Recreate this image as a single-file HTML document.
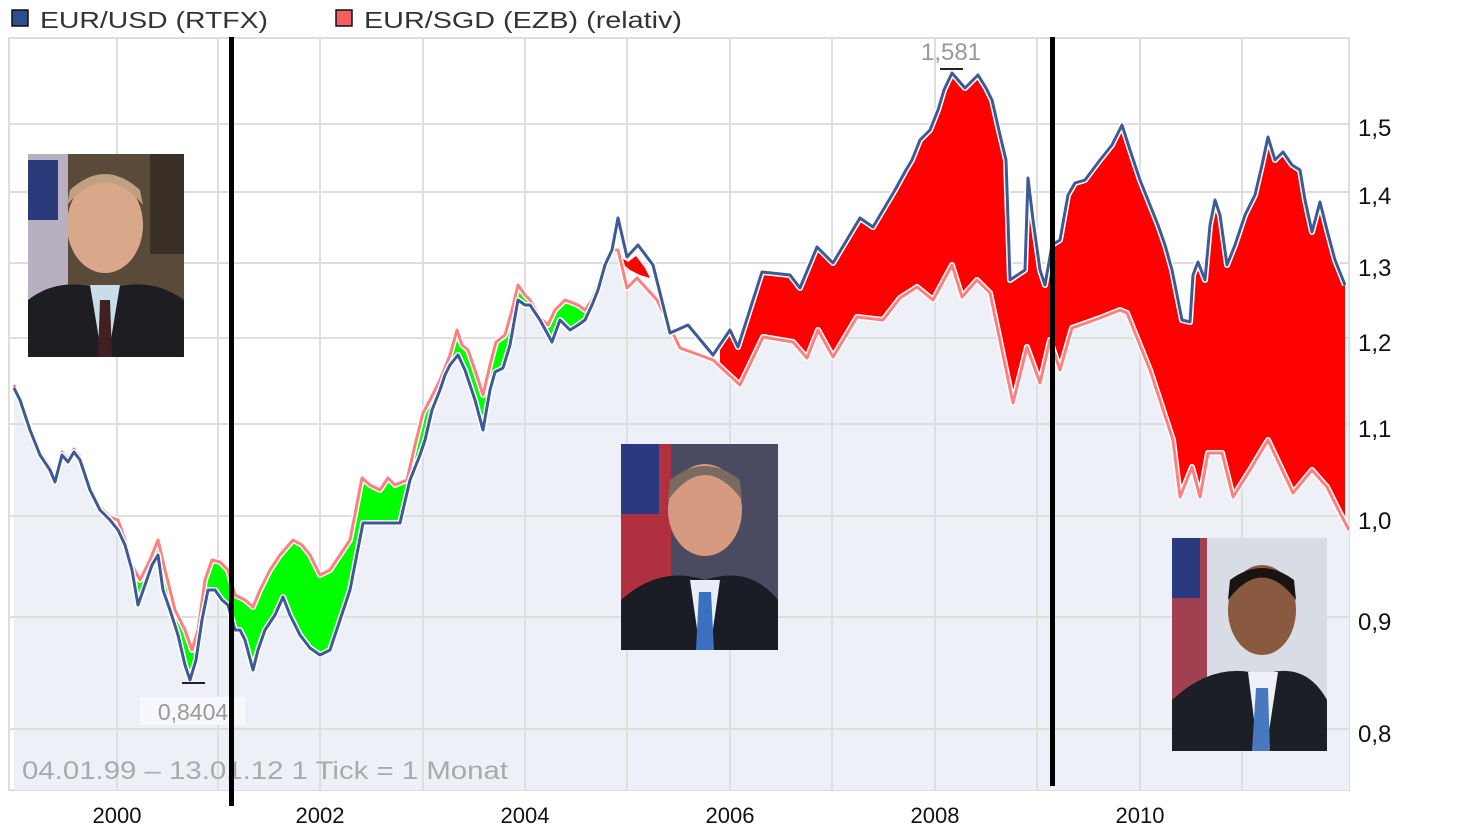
<!DOCTYPE html>
<html><head><meta charset="utf-8"><style>
html,body{margin:0;padding:0;background:#fff;width:1463px;height:838px;overflow:hidden}
svg{display:block}
text{font-family:"Liberation Sans",sans-serif}
</style></head><body>
<svg width="1463" height="838" viewBox="0 0 1463 838" xmlns="http://www.w3.org/2000/svg">
<defs>
<clipPath id="cl"><rect x="0" y="0" width="600" height="838"/></clipPath>
<clipPath id="cr"><rect x="600" y="0" width="900" height="838"/></clipPath>
<clipPath id="cg"><rect x="0" y="0" width="600" height="838"/></clipPath>
<clipPath id="cred"><rect x="720" y="0" width="700" height="838"/></clipPath>
<clipPath id="cplot"><rect x="9" y="38" width="1340" height="752"/></clipPath>
<polyline id="pk" fill="none" stroke-linejoin="round" points="14,385 20,397 30,427 40,452 50,467 55,479 62,452 68,459 74,449 80,457 90,487 100,507 110,517 118,520 125,540 132,565 140,580 150,560 158,540 165,570 175,610 185,630 192,650 198,630 205,580 212,560 220,562 228,570 235,595 245,600 253,607 260,590 270,570 280,555 293,540 302,545 310,555 320,575 330,570 340,555 350,540 362,478 370,485 380,490 388,478 395,485 407,480 415,445 423,413 430,400 440,380 450,355 457,330 462,345 468,350 475,370 483,395 490,365 496,342 505,335 512,310 518,285 525,295 530,300 540,318 548,325 555,310 565,300 578,305 585,310 592,300 598,285 605,265 612,250 618,250 627,288 637,278 657,300 680,348 713,360 740,385 763,337 793,342 807,358 818,330 833,357 857,317 883,320 900,298 917,287 933,300 952,265 962,297 977,280 990,293 1013,403 1027,347 1040,383 1050,340 1060,370 1072,328 1100,318 1120,310 1127,313 1150,370 1173,440 1180,497 1192,467 1200,497 1208,453 1222,453 1233,497 1250,470 1268,440 1293,493 1312,470 1327,487 1340,513 1349,530"/>
<polyline id="bl" fill="none" stroke-linejoin="round" points="14,388 20,400 30,430 40,455 50,470 55,482 62,455 68,462 74,452 80,460 90,490 100,510 110,520 118,530 125,545 132,570 138,605 145,585 152,565 158,555 163,590 170,610 178,635 185,665 190,680 196,660 202,620 208,590 215,590 222,600 228,605 235,630 240,630 245,640 253,670 258,650 265,630 275,615 283,597 290,615 300,635 310,648 320,655 330,650 340,620 350,590 363,523 372,523 380,523 390,523 400,523 410,480 420,455 425,440 432,410 440,390 445,375 450,365 458,355 465,370 470,385 475,400 483,430 490,390 495,372 503,368 510,345 518,300 525,305 530,305 540,320 552,342 560,320 570,330 578,325 585,320 592,305 598,290 605,265 612,250 618,218 627,257 638,245 653,265 670,333 688,325 713,355 730,330 738,347 762,272 790,275 800,288 817,247 833,263 860,218 873,227 895,190 906,170 912,160 920,140 930,130 938,110 944,90 952,73 965,88 978,75 986,88 992,100 1000,135 1006,160 1010,280 1025,270 1028,178 1033,220 1040,270 1045,285 1052,245 1060,240 1068,195 1075,183 1085,180 1100,160 1112,145 1122,125 1130,150 1140,180 1150,205 1158,225 1165,245 1172,270 1178,300 1182,320 1190,322 1193,275 1198,262 1205,280 1210,225 1215,200 1220,215 1227,265 1235,245 1245,215 1255,195 1262,165 1268,137 1275,160 1283,152 1292,165 1300,170 1305,200 1312,232 1320,202 1327,230 1335,260 1345,285"/>
</defs>
<rect x="9" y="38" width="1340" height="752" fill="#fff" stroke="#ddd" stroke-width="2"/>
<g clip-path="url(#cplot)">
<polygon clip-path="url(#cl)" fill="#eef0f8" points="14,790 14,388 20,400 30,430 40,455 50,470 55,482 62,455 68,462 74,452 80,460 90,490 100,510 110,520 118,530 125,545 132,570 138,605 145,585 152,565 158,555 163,590 170,610 178,635 185,665 190,680 196,660 202,620 208,590 215,590 222,600 228,605 235,630 240,630 245,640 253,670 258,650 265,630 275,615 283,597 290,615 300,635 310,648 320,655 330,650 340,620 350,590 363,523 372,523 380,523 390,523 400,523 410,480 420,455 425,440 432,410 440,390 445,375 450,365 458,355 465,370 470,385 475,400 483,430 490,390 495,372 503,368 510,345 518,300 525,305 530,305 540,320 552,342 560,320 570,330 578,325 585,320 592,305 598,290 605,265 610,250 610,790"/>
<polygon clip-path="url(#cr)" fill="#eef0f8" points="590,790 590,295 598,285 605,265 612,250 618,250 627,288 637,278 657,300 680,348 713,360 740,385 763,337 793,342 807,358 818,330 833,357 857,317 883,320 900,298 917,287 933,300 952,265 962,297 977,280 990,293 1013,403 1027,347 1040,383 1050,340 1060,370 1072,328 1100,318 1120,310 1127,313 1150,370 1173,440 1180,497 1192,467 1200,497 1208,453 1222,453 1233,497 1250,470 1268,440 1293,493 1312,470 1327,487 1340,513 1349,525 1349,790"/>
<g stroke="#dedede" stroke-width="2">
<line x1="117" y1="38" x2="117" y2="790"/><line x1="218" y1="38" x2="218" y2="790"/><line x1="320" y1="38" x2="320" y2="790"/><line x1="423" y1="38" x2="423" y2="790"/><line x1="525" y1="38" x2="525" y2="790"/><line x1="627" y1="38" x2="627" y2="790"/><line x1="730" y1="38" x2="730" y2="790"/><line x1="832" y1="38" x2="832" y2="790"/><line x1="935" y1="38" x2="935" y2="790"/><line x1="1037" y1="38" x2="1037" y2="790"/><line x1="1140" y1="38" x2="1140" y2="790"/><line x1="1242" y1="38" x2="1242" y2="790"/>
<line x1="9" y1="124" x2="1349" y2="124"/><line x1="9" y1="192" x2="1349" y2="192"/><line x1="9" y1="263" x2="1349" y2="263"/><line x1="9" y1="338" x2="1349" y2="338"/><line x1="9" y1="424" x2="1349" y2="424"/><line x1="9" y1="516" x2="1349" y2="516"/><line x1="9" y1="617" x2="1349" y2="617"/><line x1="9" y1="729" x2="1349" y2="729"/>
</g>
<polygon clip-path="url(#cg)" fill="#00ff00" points="14,388 20,400 30,430 40,455 50,470 55,482 62,455 68,462 74,452 80,460 90,490 100,510 110,520 118,530 125,545 132,570 138,605 145,585 152,565 158,555 163,590 170,610 178,635 185,665 190,680 196,660 202,620 208,590 215,590 222,600 228,605 235,630 240,630 245,640 253,670 258,650 265,630 275,615 283,597 290,615 300,635 310,648 320,655 330,650 340,620 350,590 363,523 372,523 380,523 390,523 400,523 410,480 420,455 425,440 432,410 440,390 445,375 450,365 458,355 465,370 470,385 475,400 483,430 490,390 495,372 503,368 510,345 518,300 525,305 530,305 540,320 552,342 560,320 570,330 578,325 585,320 592,305 598,290 598,285 592,300 585,310 578,305 565,300 555,310 548,325 540,318 530,300 525,295 518,285 512,310 505,335 496,342 490,365 483,395 475,370 468,350 462,345 457,330 450,355 440,380 430,400 423,413 415,445 407,480 395,485 388,478 380,490 370,485 362,478 350,540 340,555 330,570 320,575 310,555 302,545 293,540 280,555 270,570 260,590 253,607 245,600 235,595 228,570 220,562 212,560 205,580 198,630 192,650 185,630 175,610 165,570 158,540 150,560 140,580 132,565 125,540 118,520 110,517 100,507 90,487 80,457 74,449 68,459 62,452 55,479 50,467 40,452 30,427 20,397 14,385"/>
<polygon clip-path="url(#cred)" fill="#ff0000" points="713,355 730,330 738,347 762,272 790,275 800,288 817,247 833,263 860,218 873,227 895,190 906,170 912,160 920,140 930,130 938,110 944,90 952,73 965,88 978,75 986,88 992,100 1000,135 1006,160 1010,280 1025,270 1028,178 1033,220 1040,270 1045,285 1052,245 1060,240 1068,195 1075,183 1085,180 1100,160 1112,145 1122,125 1130,150 1140,180 1150,205 1158,225 1165,245 1172,270 1178,300 1182,320 1190,322 1193,275 1198,262 1205,280 1210,225 1215,200 1220,215 1227,265 1235,245 1245,215 1255,195 1262,165 1268,137 1275,160 1283,152 1292,165 1300,170 1305,200 1312,232 1320,202 1327,230 1335,260 1345,285 1345,520 1340,513 1327,487 1312,470 1293,493 1268,440 1250,470 1233,497 1222,453 1208,453 1200,497 1192,467 1180,497 1173,440 1150,370 1127,313 1120,310 1100,318 1072,328 1060,370 1050,340 1040,383 1027,347 1013,403 990,293 977,280 962,297 952,265 933,300 917,287 900,298 883,320 857,317 833,357 818,330 807,358 793,342 763,337 740,385 713,360"/>
<polygon fill="#ff0000" points="622,258 628,262 636,256 645,268 650,278 640,275 630,270 624,265"/>
<use href="#pk" stroke="#fff" stroke-width="6"/>
<use href="#pk" stroke="#ff7f7f" stroke-width="3"/>
<use href="#bl" stroke="#fff" stroke-width="6"/>
<use href="#bl" stroke="#3d5a96" stroke-width="3"/>
</g>
<line x1="940" y1="69" x2="963" y2="69" stroke="#222" stroke-width="2"/>
<text x="951" y="60" font-size="24" fill="#999" text-anchor="middle">1,581</text>
<line x1="182" y1="683" x2="205" y2="683" stroke="#222" stroke-width="2"/>
<rect x="140" y="697" width="105" height="28" fill="#f7f8fb"/>
<text x="193" y="720" font-size="23" fill="#999" text-anchor="middle">0,8404</text>
<text x="22" y="779" font-size="25" fill="#aaa" textLength="486" lengthAdjust="spacingAndGlyphs">04.01.99 – 13.01.12   1 Tick = 1 Monat</text>
<g font-size="24" fill="#111">
<text x="1358" y="136">1,5</text><text x="1358" y="204">1,4</text><text x="1358" y="276">1,3</text><text x="1358" y="351">1,2</text><text x="1358" y="437">1,1</text><text x="1358" y="529">1,0</text><text x="1358" y="630">0,9</text><text x="1358" y="742">0,8</text>
</g>
<g font-size="22" fill="#111" text-anchor="middle">
<text x="117" y="823">2000</text><text x="320" y="823">2002</text><text x="525" y="823">2004</text><text x="730" y="823">2006</text><text x="935" y="823">2008</text><text x="1140" y="823">2010</text>
</g>
<rect x="12" y="10" width="16" height="16" fill="#2d4f8e" stroke="#111" stroke-width="1.5"/>
<text x="40" y="28" font-size="23" fill="#333" textLength="228" lengthAdjust="spacingAndGlyphs">EUR/USD (RTFX)</text>
<rect x="336" y="10" width="16" height="16" fill="#f46060" stroke="#111" stroke-width="1.5"/>
<text x="364" y="28" font-size="23" fill="#333" textLength="318" lengthAdjust="spacingAndGlyphs">EUR/SGD (EZB) (relativ)</text>
<rect x="229" y="37" width="5" height="769" fill="#000"/>
<rect x="1050" y="37" width="5" height="749" fill="#000"/>
<g>
<rect x="28" y="154" width="156" height="203" fill="#5a4a3a"/>
<rect x="28" y="154" width="40" height="150" fill="#b8b0c0"/>
<rect x="28" y="160" width="30" height="60" fill="#2b3a7a"/>
<rect x="150" y="154" width="34" height="100" fill="#3a3028"/>
<ellipse cx="105" cy="225" rx="38" ry="48" fill="#d9a88a"/>
<path d="M67,205 Q105,160 143,205 L140,190 Q105,158 70,190Z" fill="#bfa080"/>
<path d="M28,357 L28,300 Q60,275 105,290 Q150,275 184,300 L184,357Z" fill="#1e1e22"/>
<polygon points="90,285 120,285 108,357 102,357" fill="#c8dcea"/>
<polygon points="100,300 110,300 112,357 98,357" fill="#402020"/>
</g>
<g>
<rect x="621" y="444" width="157" height="206" fill="#4a4a60"/>
<rect x="621" y="444" width="50" height="160" fill="#b03040"/>
<rect x="621" y="444" width="38" height="70" fill="#2a3a80"/>
<ellipse cx="705" cy="510" rx="37" ry="46" fill="#d59a80"/>
<path d="M668,500 Q705,450 742,500 L740,480 Q705,452 670,480Z" fill="#7a6a60"/>
<path d="M621,650 L621,600 Q660,565 705,580 Q750,565 778,600 L778,650Z" fill="#1a1c26"/>
<polygon points="690,580 720,580 710,650 700,650" fill="#e8eef6"/>
<polygon points="699,592 711,592 714,650 696,650" fill="#3a70c0"/>
</g>
<g>
<rect x="1172" y="538" width="155" height="213" fill="#d8dce4"/>
<rect x="1172" y="538" width="35" height="170" fill="#a04050"/>
<rect x="1172" y="538" width="28" height="60" fill="#2a3a80"/>
<ellipse cx="1262" cy="610" rx="34" ry="45" fill="#8a5a40"/>
<path d="M1228,600 Q1262,555 1296,600 L1294,580 Q1262,556 1230,580Z" fill="#1a1410"/>
<path d="M1172,751 L1172,700 Q1215,660 1262,675 Q1305,660 1327,700 L1327,751Z" fill="#1c1e28"/>
<polygon points="1248,672 1278,672 1266,751 1258,751" fill="#eef0f6"/>
<polygon points="1256,688 1268,688 1270,751 1252,751" fill="#4a78c0"/>
</g>
</svg>
</body></html>
